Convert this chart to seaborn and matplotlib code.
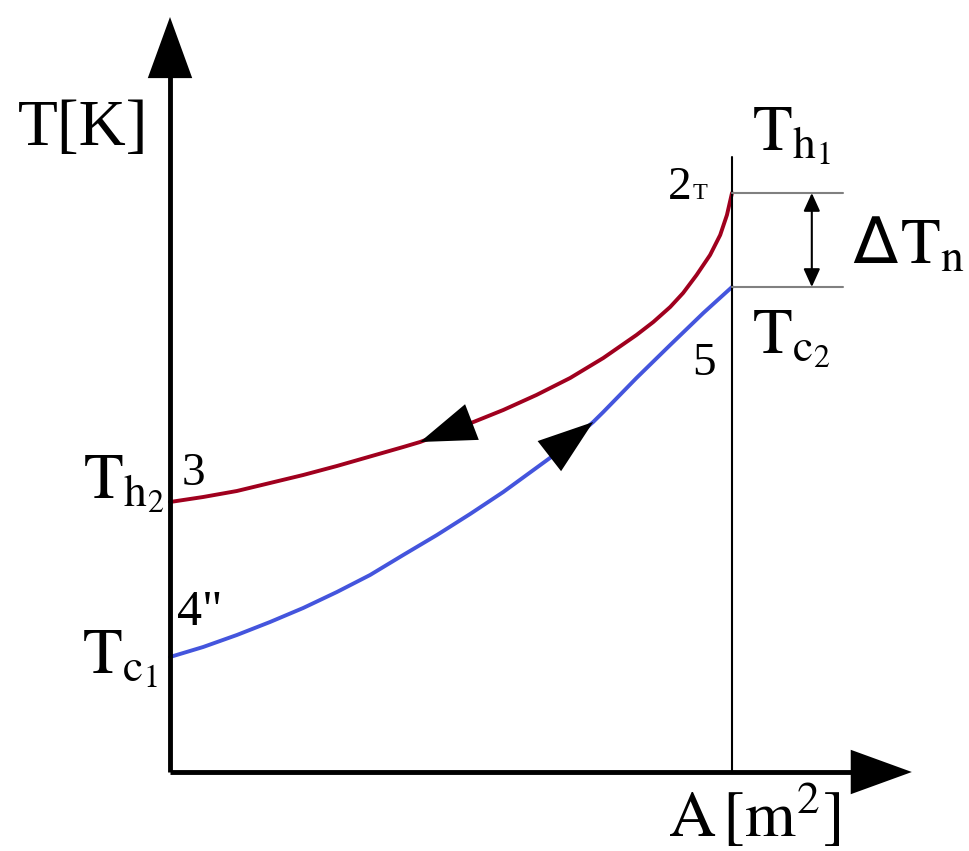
import pandas as pd
import matplotlib.pyplot as plt
import seaborn as sns

# curves: A normalised to 1 at the right edge, T in arbitrary units
hot_A = [0.0, 0.059, 0.119, 0.178, 0.237, 0.297, 0.356, 0.415, 0.445, 0.540, 0.593, 0.652,
         0.712, 0.771, 0.830, 0.860, 0.890, 0.913, 0.937, 0.961, 0.979, 0.991, 1.0]
hot_T = [2.70, 2.75, 2.81, 2.89, 2.97, 3.06, 3.155, 3.25, 3.30, 3.50, 3.62, 3.77,
         3.94, 4.14, 4.37, 4.50, 4.65, 4.79, 4.97, 5.17, 5.37, 5.57, 5.79]
cold_A = [0.0, 0.059, 0.119, 0.178, 0.237, 0.297, 0.356, 0.415, 0.475, 0.534, 0.593,
          0.676, 0.712, 0.753, 0.771, 0.830, 0.890, 0.949, 1.0]
cold_T = [1.15, 1.25, 1.37, 1.50, 1.64, 1.80, 1.97, 2.17, 2.37, 2.58, 2.80,
          3.14, 3.30, 3.50, 3.60, 3.94, 4.27, 4.59, 4.85]

# where the flow arrows sit (indices into the curves: tip, tail)
hot_arrow = (8, 10)
cold_arrow = (13, 10)

# axis extents (data units)
A_end = 1.320
T_top = 7.55
T_wall = 6.15    # top of the vertical line at A = 1
A_gray = 1.1975  # end of the grey lines
A_dT = 1.142     # position of the delta T arrow

hot_color = '#A0001E'
cold_color = '#4455DD'

df = pd.concat([
    pd.DataFrame({'A': hot_A, 'T': hot_T, 'stream': 'hot'}),
    pd.DataFrame({'A': cold_A, 'T': cold_T, 'stream': 'cold'}),
])

sns.set_theme(style="white")
plt.rcParams['font.family'] = ['Liberation Serif', 'DejaVu Serif']
plt.rcParams['mathtext.fontset'] = 'stix'

fig = plt.figure(figsize=(9.7, 8.51), dpi=100)
ax = fig.add_axes([0, 0, 1, 1])
ax.set_xlim(-170 / 562, 800 / 562)
ax.set_ylim(-0.79, 7.72)
ax.axis('off')


def at(px, py):
    # pixel position in the picture -> data coordinates
    return (px - 170) / 562, (772 - py) / 100


sns.lineplot(data=df, x='A', y='T', hue='stream', palette={'hot': hot_color, 'cold': cold_color},
             lw=2.8, legend=False, ax=ax, estimator=None)

# flow direction arrow heads
head = dict(arrowstyle='-|>,head_length=1.6,head_width=0.55', mutation_scale=25,
            lw=0, color='black', shrinkA=0, shrinkB=0)
i, j = hot_arrow
ax.annotate('', xy=(hot_A[i], hot_T[i]), xytext=(hot_A[j], hot_T[j]), arrowprops=head)
i, j = cold_arrow
ax.annotate('', xy=(cold_A[i], cold_T[i]), xytext=(cold_A[j], cold_T[j]), arrowprops=head)

# axes with arrows
ax.plot([0, 0], [0, T_top - 0.5], color='black', lw=3.5, solid_capstyle='butt')
ax.plot([0, A_end - 0.1], [0, 0], color='black', lw=3.5, solid_capstyle='butt')
axis_head = dict(arrowstyle='-|>,head_length=2.2,head_width=0.8', mutation_scale=20,
                 lw=0, color='black', shrinkA=0, shrinkB=0)
ax.annotate('', xy=(0, T_top), xytext=(0, T_top - 1.0), arrowprops=axis_head)
ax.annotate('', xy=(A_end, 0), xytext=(A_end - 0.2, 0), arrowprops=axis_head)

# outlet wall and delta T marks
ax.plot([1, 1], [0, T_wall], color='black', lw=1.5)
ax.plot([1, A_gray], [hot_T[-1], hot_T[-1]], color='#808080', lw=1.5)
ax.plot([1, A_gray], [cold_T[-1], cold_T[-1]], color='#808080', lw=1.5)
ax.annotate('', xy=(A_dT, hot_T[-1]), xytext=(A_dT, cold_T[-1]),
            arrowprops=dict(arrowstyle='<|-|>,head_length=1.1,head_width=0.5', mutation_scale=10,
                            lw=1.5, color='black', shrinkA=0, shrinkB=0))

big = 47
small = 34
labels = [
    ('T[K]', 18, 145, big),
    (r'$\mathrm{T_{h_1}}$', 752, 150, big),
    (r'$\mathrm{T_n}$', 900, 263, big),
    (r'$\mathrm{T_{c_2}}$', 752, 353, big),
    ('5', 692, 375, small),
    ('3', 182, 485, small),
    (r'$\mathrm{T_{h_2}}$', 83, 498, big),
    ('4"', 177, 625, 36),
    (r'$\mathrm{T_{c_1}}$', 82, 673, big),
    (r'$\mathrm{A\,[m^2]}$', 668, 837, big),
    ('2', 668, 199, small),
    ('T', 693, 199, 17.5),
]
for txt, px, py, size in labels:
    x, y = at(px, py)
    ax.text(x, y, txt, fontsize=size, ha='left', va='baseline', color='black')

# outline delta sign
x, y = at(853, 263)
ax.text(x, y, '\u2206', fontsize=big, ha='left', va='baseline', color='black',
        family=['DejaVu Sans'])

plt.savefig('out.png', dpi=100)
plt.close()
